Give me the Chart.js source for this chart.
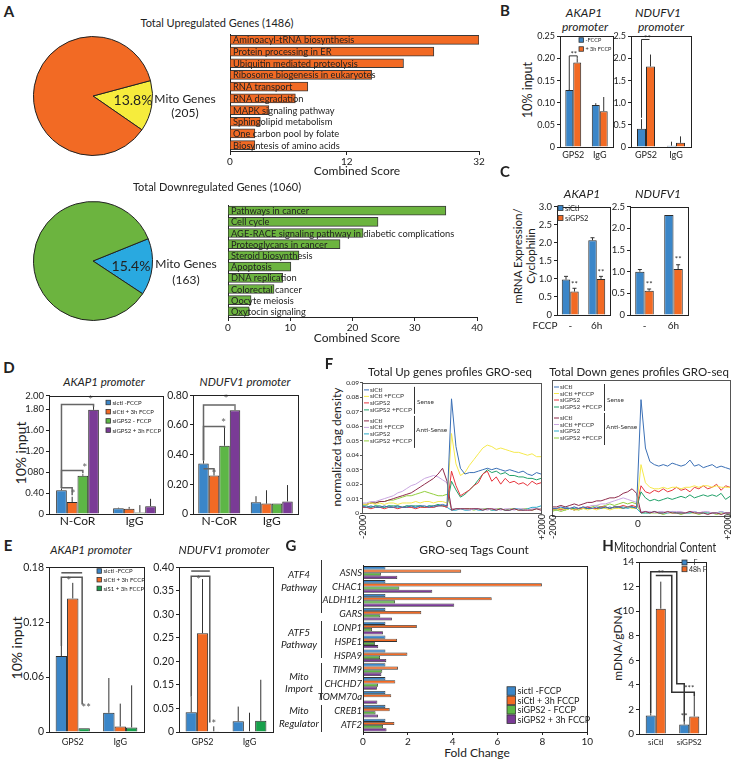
<!DOCTYPE html>
<html><head><meta charset="utf-8">
<script src="https://cdn.jsdelivr.net/npm/chart.js@4.4.0/dist/chart.umd.min.js"></script>
<style>
html,body{margin:0;background:#fff;overflow:hidden}
#fig{position:relative;width:734px;height:763px;overflow:hidden;font-family:Lato,'Open Sans',sans-serif;color:#222}
#fig canvas{position:absolute}
.t{position:absolute;white-space:nowrap;line-height:1;transform:translate(-50%,-50%)}
.v{transform:translate(-50%,-50%) rotate(-90deg)}
.b{font-weight:bold}
.i{font-style:italic}
</style></head><body><div id="fig"></div>
<script>
/* data: panel A */
const upPie = [13.8, 86.2];
const downPie = [15.4, 84.6];
const upTerms = ['Aminoacyl-tRNA biosynthesis', 'Protein processing in ER', 'Ubiquitin mediated proteolysis', 'Ribosome biogenesis in eukaryotes', 'RNA transport', 'RNA degradation', 'MAPK signaling pathway', 'Sphingolipid metabolism', 'One carbon pool by folate', 'Biosyntesis of amino acids'];
const upScores = [32, 26.2, 22.3, 18.2, 10.0, 8.4, 5.0, 3.9, 3.2, 3.2];
const upTickVals = [0, 15, 32];
const upTickLabels = ['0', '12', '32'];
const downTerms = ['Pathways in cancer', 'Cell cycle', 'AGE-RACE signaling pathway in diabetic complications', 'Proteoglycans in cancer', 'Steroid biosynthesis', 'Apoptosis', 'DNA replication', 'Colorectal cancer', 'Oocyte meiosis', 'Oxytocin signaling'];
const downScores = [35.0, 24.1, 21.7, 18.0, 11.4, 10.1, 8.8, 7.4, 3.7, 3.4];
const downTickVals = [0, 10, 20, 30, 40];
const downTickLabels = ['0', '10', '20', '30', '40'];

/* panel B: ChIP */
const chipGroups = ['GPS2', 'IgG'];
const bLegend = ['-FCCP', '+ 3h FCCP'];
const bAkapNoF = [0.129, 0.095], bAkapNoFErr = [0.131, 0.099];
const bAkapF = [0.191, 0.081], bAkapFErr = [0.200, 0.113];
const bAkapTicks = [0, 0.05, 0.1, 0.15, 0.2, 0.25];
const bAkapTickLabels = ['0', '0.05', '0.10', '0.15', '0.20', '0.25'];
const bNdufNoF = [0.41, 0.03], bNdufNoFErr = [0.63, 0.12];
const bNdufF = [1.82, 0.095], bNdufFErr = [2.09, 0.24];
const bNdufTicks = [0, 0.5, 1, 1.5, 2, 2.5];
const bNdufTickLabels = ['0', '0.5', '1.0', '1.5', '2.0', '2.5'];

/* panel C: mRNA */
const fccpGroups = ['-', '6h'];
const cLegend = ['siCtl', 'siGPS2'];
const cAkapCtl = [0.98, 2.07], cAkapCtlErr = [1.07, 2.14];
const cAkapSi = [0.65, 1.0], cAkapSiErr = [0.74, 1.07];
const cAkapTicks = [0, 0.5, 1, 1.5, 2, 2.5, 3];
const cAkapTickLabels = ['0', '0.5', '1.0', '1.5', '2.0', '2.5', '3.0'];
const cNdufCtl = [1.0, 2.31], cNdufCtlErr = [1.05, 2.32];
const cNdufSi = [0.56, 1.06], cNdufSiErr = [0.6, 1.16];
const cNdufTicks = [0, 0.5, 1, 1.5, 2, 2.5];
const cNdufTickLabels = ['0', '0.5', '1.0', '1.5', '2.0', '2.5'];

/* panel D: N-CoR ChIP */
const dGroups = ['N-CoR', 'IgG'];
const dLegend = ['sictl -FCCP', 'siCtl + 3h FCCP', 'siGPS2 - FCCP', 'siGPS2 + 3h FCCP'];
const dAkap = [[0.455, 0.11], [0.23, 0.10], [0.73, 0.03], [1.99, 0.15]];
const dAkapErr = [[0.49, 0.12], [0.33, 0.135], [0.76, 0.17], [2.10, 0.29]];
const dAkapTicks = [0, 0.4, 0.8, 1.2, 1.6, 2.0, 2.26];
const dAkapTickLabels = ['0', '0.40', '080', '1.20', '1.60', '1.80', '2.00'];
const dNduf = [[0.34, 0.08], [0.26, 0.07], [0.46, 0.07], [0.70, 0.085]];
const dNdufErr = [[0.36, 0.12], [0.29, 0.16], [0.58, 0.07], [0.73, 0.195]];
const dNdufTicks = [0, 0.2, 0.4, 0.6, 0.8];
const dNdufTickLabels = ['0', '0.20', '0.40', '0.60', '0.80'];

/* panel E: GPS2 ChIP */
const eLegend = ['sictl -FCCP', 'siCtl + 3h FCCP', 'siS1 + 3h FCCP'];
const eAkap = [[0.083, 0.021], [0.146, 0.006], [0.004, 0.005]];
const eAkapErr = [[0.094, 0.059], [0.163, 0.031], [0.004, 0.051]];
const eAkapTicks = [0, 0.06, 0.12, 0.18];
const eAkapTickLabels = ['0', '0.06', '0.12', '0.18'];
const eNduf = [[0.042, 0.023], [0.21, 0.0015], [0.0015, 0.024]];
const eNdufErr = [[0.075, 0.054], [0.325, 0.041], [0.012, 0.111]];
const eNdufTicks = [0, 0.05, 0.1, 0.15, 0.2, 0.25, 0.3, 0.35];
const eNdufTickLabels = ['0', '0.05', '0.15', '0.20', '0.25', '0.30', '0.35', '0.40'];

/* panel F: GRO-seq profiles */
const profileX = [-2000, -1900, -1800, -1700, -1600, -1500, -1400, -1300, -1200, -1100, -1000, -900, -800, -700, -600, -500, -400, -300, -200, -100, 0, 100, 200, 300, 400, 500, 600, 700, 800, 900, 1000, 1100, 1200, 1300, 1400, 1500, 1600, 1700, 1800, 1900, 2000];
const profileNames = ['siCtl', 'siCtl +FCCP', 'siGPS2', 'siGPS2 +FCCP', 'siCtl', 'siCtl +FCCP', 'siGPS2', 'siGPS2 +FCCP'];
const strandNames = ['Sense', 'Anti-Sense'];
const fTickVals = [0, 0.01, 0.02, 0.03, 0.04, 0.05, 0.06, 0.07, 0.08, 0.09];
const fTickLabels = ['0', '0.01', '0.02', '0.03', '0.04', '0.05', '0.06', '0.07', '0.08', '0.09'];
const upSenseCtl = [0.005, 0.004, 0.005, 0.004, 0.004, 0.005, 0.004, 0.004, 0.005, 0.004, 0.004, 0.005, 0.004, 0.005, 0.005, 0.004, 0.005, 0.005, 0.006, 0.005, 0.079, 0.046, 0.031, 0.027, 0.028, 0.028, 0.029, 0.030, 0.031, 0.030, 0.031, 0.030, 0.029, 0.030, 0.029, 0.028, 0.029, 0.027, 0.026, 0.028, 0.027];
const upSenseCtlF = [0.006, 0.006, 0.007, 0.006, 0.007, 0.006, 0.007, 0.007, 0.006, 0.007, 0.007, 0.007, 0.008, 0.007, 0.008, 0.008, 0.007, 0.008, 0.008, 0.007, 0.055, 0.034, 0.026, 0.028, 0.033, 0.037, 0.041, 0.045, 0.047, 0.046, 0.044, 0.045, 0.044, 0.043, 0.042, 0.042, 0.041, 0.040, 0.041, 0.039, 0.039];
const upSenseSi = [0.004, 0.004, 0.003, 0.004, 0.004, 0.003, 0.004, 0.004, 0.003, 0.004, 0.004, 0.004, 0.003, 0.004, 0.004, 0.004, 0.004, 0.005, 0.005, 0.004, 0.029, 0.019, 0.012, 0.014, 0.016, 0.019, 0.021, 0.027, 0.029, 0.022, 0.025, 0.020, 0.024, 0.021, 0.022, 0.020, 0.021, 0.019, 0.022, 0.020, 0.021];
const upSenseSiF = [0.005, 0.005, 0.004, 0.005, 0.005, 0.004, 0.005, 0.005, 0.005, 0.004, 0.005, 0.005, 0.005, 0.005, 0.004, 0.005, 0.005, 0.006, 0.005, 0.005, 0.022, 0.016, 0.011, 0.013, 0.016, 0.019, 0.023, 0.027, 0.030, 0.028, 0.029, 0.027, 0.028, 0.026, 0.026, 0.025, 0.025, 0.024, 0.024, 0.023, 0.024];
const upAntiCtl = [0.006, 0.006, 0.007, 0.007, 0.008, 0.008, 0.009, 0.010, 0.011, 0.012, 0.013, 0.014, 0.016, 0.018, 0.020, 0.022, 0.024, 0.027, 0.031, 0.022, 0.002, 0.003, 0.003, 0.003, 0.003, 0.003, 0.003, 0.002, 0.003, 0.003, 0.002, 0.003, 0.002, 0.002, 0.003, 0.002, 0.002, 0.002, 0.002, 0.003, 0.002];
const upAntiCtlF = [0.007, 0.007, 0.008, 0.008, 0.009, 0.010, 0.011, 0.012, 0.014, 0.015, 0.017, 0.019, 0.020, 0.022, 0.024, 0.025, 0.026, 0.025, 0.023, 0.021, 0.003, 0.003, 0.003, 0.003, 0.002, 0.003, 0.003, 0.003, 0.002, 0.003, 0.003, 0.002, 0.003, 0.003, 0.002, 0.003, 0.003, 0.002, 0.003, 0.003, 0.003];
const upAntiSi = [0.004, 0.004, 0.004, 0.005, 0.004, 0.004, 0.005, 0.004, 0.004, 0.004, 0.005, 0.004, 0.004, 0.005, 0.004, 0.005, 0.004, 0.005, 0.005, 0.004, 0.002, 0.002, 0.003, 0.002, 0.002, 0.003, 0.002, 0.002, 0.003, 0.002, 0.002, 0.003, 0.002, 0.002, 0.003, 0.003, 0.002, 0.003, 0.004, 0.004, 0.005];
const upAntiSiF = [0.006, 0.006, 0.007, 0.007, 0.008, 0.008, 0.009, 0.009, 0.010, 0.011, 0.012, 0.012, 0.013, 0.014, 0.015, 0.014, 0.013, 0.012, 0.012, 0.013, 0.003, 0.003, 0.003, 0.003, 0.003, 0.002, 0.003, 0.003, 0.003, 0.002, 0.003, 0.003, 0.002, 0.003, 0.003, 0.002, 0.003, 0.003, 0.002, 0.003, 0.003];
const dnSenseCtl = [0.005, 0.005, 0.006, 0.005, 0.005, 0.006, 0.005, 0.006, 0.005, 0.005, 0.006, 0.005, 0.006, 0.005, 0.006, 0.006, 0.005, 0.006, 0.006, 0.005, 0.077, 0.045, 0.036, 0.034, 0.033, 0.034, 0.033, 0.035, 0.034, 0.033, 0.034, 0.037, 0.033, 0.034, 0.032, 0.033, 0.034, 0.032, 0.033, 0.032, 0.031];
const dnSenseCtlF = [0.004, 0.004, 0.005, 0.004, 0.005, 0.004, 0.004, 0.005, 0.004, 0.005, 0.004, 0.005, 0.005, 0.004, 0.005, 0.005, 0.005, 0.006, 0.005, 0.005, 0.034, 0.022, 0.019, 0.018, 0.018, 0.019, 0.018, 0.019, 0.019, 0.018, 0.019, 0.019, 0.020, 0.019, 0.020, 0.020, 0.019, 0.020, 0.019, 0.019, 0.019];
const dnSenseSi = [0.004, 0.005, 0.004, 0.005, 0.005, 0.004, 0.005, 0.005, 0.006, 0.005, 0.005, 0.006, 0.006, 0.005, 0.006, 0.006, 0.007, 0.006, 0.007, 0.006, 0.020, 0.016, 0.015, 0.017, 0.016, 0.018, 0.016, 0.017, 0.019, 0.017, 0.018, 0.016, 0.019, 0.018, 0.020, 0.018, 0.019, 0.021, 0.017, 0.020, 0.019];
const dnSenseSiF = [0.004, 0.004, 0.005, 0.004, 0.005, 0.005, 0.004, 0.005, 0.005, 0.005, 0.005, 0.005, 0.006, 0.005, 0.006, 0.006, 0.005, 0.006, 0.006, 0.005, 0.016, 0.012, 0.010, 0.011, 0.010, 0.011, 0.012, 0.011, 0.012, 0.013, 0.012, 0.014, 0.012, 0.013, 0.014, 0.013, 0.014, 0.013, 0.015, 0.011, 0.013];
const dnAntiCtl = [0.006, 0.006, 0.007, 0.006, 0.007, 0.008, 0.007, 0.008, 0.009, 0.009, 0.010, 0.010, 0.011, 0.012, 0.012, 0.013, 0.015, 0.016, 0.018, 0.015, 0.002, 0.003, 0.002, 0.003, 0.002, 0.002, 0.003, 0.002, 0.002, 0.002, 0.002, 0.003, 0.002, 0.002, 0.002, 0.001, 0.002, 0.002, 0.001, 0.002, 0.002];
const dnAntiCtlF = [0.004, 0.005, 0.004, 0.005, 0.005, 0.006, 0.005, 0.006, 0.006, 0.007, 0.007, 0.008, 0.008, 0.009, 0.010, 0.011, 0.012, 0.011, 0.010, 0.009, 0.003, 0.003, 0.003, 0.002, 0.003, 0.003, 0.002, 0.003, 0.003, 0.003, 0.002, 0.003, 0.003, 0.002, 0.003, 0.003, 0.002, 0.002, 0.003, 0.002, 0.002];
const dnAntiSi = [0.005, 0.004, 0.005, 0.006, 0.005, 0.004, 0.005, 0.005, 0.006, 0.005, 0.005, 0.006, 0.005, 0.006, 0.005, 0.006, 0.006, 0.005, 0.006, 0.005, 0.002, 0.002, 0.002, 0.003, 0.002, 0.002, 0.002, 0.003, 0.002, 0.002, 0.002, 0.002, 0.003, 0.002, 0.002, 0.002, 0.002, 0.002, 0.003, 0.002, 0.002];
const dnAntiSiF = [0.003, 0.004, 0.003, 0.004, 0.005, 0.004, 0.005, 0.006, 0.005, 0.006, 0.007, 0.006, 0.007, 0.008, 0.007, 0.008, 0.009, 0.008, 0.009, 0.008, 0.002, 0.002, 0.002, 0.002, 0.002, 0.001, 0.002, 0.002, 0.002, 0.001, 0.002, 0.002, 0.002, 0.001, 0.002, 0.002, 0.002, 0.001, 0.002, 0.002, 0.001];

/* panel G: tag counts */
const gGenes = ['ASNS', 'CHAC1', 'ALDH1L2', 'GARS', 'LONP1', 'HSPE1', 'HSPA9', 'TIMM9', 'CHCHD7', 'TOMM70a', 'CREB1', 'ATF2'];
const gCtl = [1, 1, 1, 1, 1, 1, 1, 1, 1, 1, 1, 1];
const gCtlF = [4.38, 7.98, 5.74, 2.6, 2.4, 1.52, 1.98, 1.56, 1.44, 1.26, 1.19, 1.4];
const gSi = [0.8, 1.62, 1.43, 0.77, 0.4, 0.53, 0.76, 0.86, 0.67, 0, 0.56, 0.89];
const gSiF = [1.53, 3.09, 4.07, 1.29, 0.89, 0.68, 1.04, 0.82, 0.62, 0.64, 0.67, 1.05];
const gTickVals = [0, 2, 4, 6, 8, 10];
const gTickLabels = ['0', '2', '4', '6', '8', '10'];
const gLegend = ['sictl -FCCP', 'siCtl + 3h FCCP', 'siGPS2 - FCCP', 'siGPS2 + 3h FCCP'];
const gPathways = [['ATF4', 'Pathway'], ['ATF5', 'Pathway'], ['Mito', 'Import'], ['Mito', 'Regulator']];

/* panel H: mito content */
const hGroups = ['siCtl', 'siGPS2'];
const hLegend = ['- F', '48h F'];
const hNoF = [1.51, 0.77], hNoFErr = [1.7, 1.0];
const hF = [10.2, 1.43], hFErr = [12.4, 3.1];
const hTicks = [0, 2, 4, 6, 8, 10, 12, 14];
const hTickLabels = ['0', '2', '4', '6', '8', '10', '12', '14'];

const FONT = "Lato, 'Open Sans', sans-serif";
const BLUE = '#3b86c8', ORANGE = '#f26a24', GREEN = '#5db646', PURPLE = '#7a3b96', DGREEN = '#17a04b';
const lineColors = ['#3a6fb5', '#f5e94c', '#e6343c', '#20a068', '#8e2a4a', '#c9a6e0', '#2aaac9', '#93cf3e'];

Chart.defaults.font.family = FONT;
Chart.defaults.color = '#222';

const fig = document.getElementById('fig');

const annPlugin = {
  id: 'ann',
  afterDatasetsDraw(chart) {
    const a = chart.canvas._ann, ctx = chart.ctx, ca = chart.chartArea, ys = chart.scales.y;
    ctx.save();
    if (a.err) {
      ctx.strokeStyle = '#333'; ctx.lineWidth = 1;
      a.err.forEach((errs, i) => {
        if (!errs) return;
        chart.getDatasetMeta(i).data.forEach((bar, j) => {
          const y = ys.getPixelForValue(errs[j]);
          if (y >= bar.y - 0.5) return;
          ctx.beginPath(); ctx.moveTo(bar.x, bar.y); ctx.lineTo(bar.x, y);
          if (a.cap) { ctx.moveTo(bar.x - a.cap, y); ctx.lineTo(bar.x + a.cap, y); }
          ctx.stroke();
        });
      });
    }
    if (a.marks) {
      const px = p => chart.getDatasetMeta(p[0]).data[p[1]].x + (p[2] || 0);
      const col = a.markColor || '#555';
      ctx.strokeStyle = col; ctx.fillStyle = col; ctx.lineWidth = a.markWidth || 1.5;
      ctx.font = `${a.markSize || 11}px ${FONT}`; ctx.textAlign = 'center'; ctx.textBaseline = 'middle';
      a.marks.forEach(m => {
        if (m.pts) {
          ctx.beginPath();
          m.pts.forEach((p, k) => { const x = px(p), y = ys.getPixelForValue(p[3]); if (k) ctx.lineTo(x, y); else ctx.moveTo(x, y); });
          ctx.stroke();
        }
        if (m.t) ctx.fillText(m.t, px(m.at), ys.getPixelForValue(m.at[3]));
      });
    }
    if (a.catLabels) {
      ctx.fillStyle = '#222'; ctx.font = `${a.catLabels}px ${FONT}`; ctx.textAlign = 'left'; ctx.textBaseline = 'middle';
      chart.getDatasetMeta(0).data.forEach((bar, j) => ctx.fillText(chart.data.labels[j], ca.left + 3, bar.y + 0.5));
    }
    ctx.restore();
  },
  afterDraw(chart) {
    const a = chart.canvas._ann, ctx = chart.ctx, ca = chart.chartArea;
    const ox = parseFloat(chart.canvas.style.left), oy = parseFloat(chart.canvas.style.top);
    ctx.save();
    if (a.frame) {
      ctx.strokeStyle = a.frameColor || '#222'; ctx.lineWidth = 1;
      ctx.strokeRect(Math.round(ca.left) + 0.5, Math.round(ca.top) + 0.5, Math.round(ca.right - ca.left), Math.round(ca.bottom - ca.top));
    }
    if (a.legend) {
      const L = a.legend;
      ctx.font = `${L.size}px ${FONT}`; ctx.textAlign = 'left'; ctx.textBaseline = 'middle';
      L.names.forEach((n, k) => {
        const x = L.x - ox, y = L.y - oy + k * L.row;
        ctx.fillStyle = L.colors[k]; ctx.fillRect(x, y - L.box / 2, L.box, L.box);
        ctx.strokeStyle = '#333'; ctx.lineWidth = 0.8; ctx.strokeRect(x, y - L.box / 2, L.box, L.box);
        ctx.fillStyle = '#222'; ctx.fillText(n, x + L.box + 2, y + 0.5);
      });
    }
    if (a.lineLegend) {
      const rows = [7, 13.5, 20, 27, 38, 44.5, 51, 58];
      ctx.font = `6.5px ${FONT}`; ctx.textAlign = 'left'; ctx.textBaseline = 'middle'; ctx.lineWidth = 1;
      profileNames.forEach((n, k) => {
        const y = ca.top + rows[k];
        ctx.strokeStyle = lineColors[k];
        ctx.beginPath(); ctx.moveTo(ca.left + 2, y); ctx.lineTo(ca.left + 7, y); ctx.stroke();
        ctx.fillStyle = '#333'; ctx.fillText(n, ca.left + 8, y);
      });
      ctx.strokeStyle = '#333';
      ctx.beginPath();
      ctx.moveTo(ca.left + 52.5, ca.top + 4); ctx.lineTo(ca.left + 52.5, ca.top + 31);
      ctx.moveTo(ca.left + 52.5, ca.top + 33); ctx.lineTo(ca.left + 52.5, ca.top + 65);
      ctx.stroke();
      ctx.fillText(strandNames[0], ca.left + 55, ca.top + 19.5);
      ctx.fillText(strandNames[1], ca.left + 54, ca.top + 47);
    }
    ctx.restore();
  }
};

// rect = plot area in page px, m = [left, top, right, bottom] room around it
function make(rect, m, cfg, extra) {
  const w = rect[2] - rect[0] + m[0] + m[2], h = rect[3] - rect[1] + m[1] + m[3];
  const c = document.createElement('canvas');
  c.width = w; c.height = h;
  c.style.cssText = `left:${rect[0] - m[0]}px;top:${rect[1] - m[1]}px;width:${w}px;height:${h}px`;
  c._ann = extra || {};
  fig.appendChild(c);
  const o = cfg.options = cfg.options || {};
  o.responsive = false; o.animation = false; o.events = [];
  o.layout = { padding: { left: 0, top: m[1], right: m[2], bottom: 0 } };
  o.plugins = { legend: { display: false }, tooltip: { enabled: false } };
  Object.values(o.scales || {}).forEach(s => {
    s.afterFit = sc => { if (sc.isHorizontal()) sc.height = m[3]; else sc.width = m[0]; };
  });
  cfg.plugins = [annPlugin];
  return new Chart(c, cfg);
}

function txt(x, y, s, size, cls, extra) {
  const d = document.createElement('div');
  d.className = 't ' + (cls || '');
  d.style.cssText = `left:${x}px;top:${y}px;font-size:${size}px;` + (extra || '');
  d.textContent = s;
  fig.appendChild(d);
}
function vline(x, y0, y1) {
  const d = document.createElement('div');
  d.style.cssText = `position:absolute;left:${x}px;top:${y0}px;width:1px;height:${y1 - y0}px;background:#333`;
  fig.appendChild(d);
}

function pie(rect, data, colors, rot) {
  return make(rect, [0, 0, 0, 0], {
    type: 'pie',
    data: { labels: ['Mito', 'Other'], datasets: [{ data, backgroundColor: colors, borderColor: '#222', borderWidth: 1 }] },
    options: { rotation: rot }
  });
}

function hbarsA(rect, labels, data, color, tickVals, tickLabels) {
  return make(rect, [4, 2, 8, 28], {
    type: 'bar',
    data: { labels, datasets: [{ data, backgroundColor: color, borderColor: '#3a3a3a', borderWidth: 1, barThickness: 9 }] },
    options: {
      indexAxis: 'y',
      scales: {
        x: { min: 0, max: tickVals[tickVals.length - 1],
             afterBuildTicks: s => { s.ticks = tickVals.map(v => ({ value: v })); },
             grid: { drawOnChartArea: false, tickLength: 4, color: '#222' }, border: { color: '#222' },
             ticks: { color: '#222', font: { size: 10 }, padding: 1, maxRotation: 0, autoSkip: false, callback: (v, i) => tickLabels[i] } },
        y: { grid: { display: false, drawTicks: false }, border: { color: '#222' }, ticks: { display: false } }
      }
    }
  }, { catLabels: 9.3 });
}

function vbars(rect, m, o) {
  return make(rect, m, {
    type: 'bar',
    data: {
      labels: o.labels,
      datasets: o.series.map(s => ({ data: s.data, backgroundColor: s.color, borderColor: '#2b2b2b', borderWidth: 1, categoryPercentage: o.cat, barPercentage: 1 }))
    },
    options: {
      scales: {
        x: { grid: { display: false, drawTicks: false }, border: { color: '#222' },
             ticks: { color: '#222', font: { size: o.xSize }, padding: o.xPad, maxRotation: 0, autoSkip: false } },
        y: { min: 0, max: o.tickVals[o.tickVals.length - 1],
             afterBuildTicks: s => { s.ticks = o.tickVals.map(v => ({ value: v })); },
             grid: { drawOnChartArea: false, tickLength: 3, color: '#222' }, border: { color: '#222' },
             ticks: { color: '#222', font: { size: o.ySize }, padding: 2, autoSkip: false, callback: (v, i) => o.tickLabels[i] } }
      }
    }
  }, Object.assign({ frame: true, err: o.series.map(s => s.err) }, o.ann));
}

function profile(rect, m, series, showY) {
  return make(rect, m, {
    type: 'line',
    data: { datasets: series.map((s, i) => ({ data: profileX.map((x, k) => ({ x, y: s[k] })), borderColor: lineColors[i], borderWidth: 1, pointRadius: 0, tension: 0 })) },
    options: {
      scales: {
        x: { type: 'linear', min: -2000, max: 2000, ticks: { display: false }, grid: { display: false, drawTicks: false }, border: { color: '#555' } },
        y: { min: 0, max: 0.09, afterBuildTicks: s => { s.ticks = fTickVals.map(v => ({ value: v })); },
             grid: { display: showY, drawOnChartArea: false, tickLength: 2, color: '#555' }, border: { color: '#555' },
             ticks: { display: showY, font: { size: 6.5 }, padding: 1, autoSkip: false, callback: (v, i) => fTickLabels[i] } }
      }
    }
  }, { frame: true, frameColor: '#555', lineLegend: true });
}

/* ---------- A ---------- */
txt(9, 11, 'A', 15, 'b');
txt(217, 22, 'Total Upregulated Genes (1486)', 11);
pie([33, 36, 153, 156], upPie, ['#f6ec3c', '#f26a24'], 75);
txt(133, 100, upPie[0] + '%', 14);
txt(185, 99, 'Mito Genes', 12); txt(185, 113, '(205)', 12);
hbarsA([230, 34, 479, 151], upTerms, upScores, '#f26a24', upTickVals, upTickLabels);
txt(357, 171, 'Combined Score', 12);
txt(217, 186, 'Total Downregulated Genes (1060)', 11);
pie([33, 201, 153, 321], downPie, ['#29a9e0', '#6cb43f'], 68);
txt(131, 266, downPie[0] + '%', 14);
txt(186, 264, 'Mito Genes', 12); txt(186, 280, '(163)', 12);
hbarsA([228, 205, 477, 317], downTerms, downScores, '#6cb43f', downTickVals, downTickLabels);
txt(357, 338, 'Combined Score', 12);

/* ---------- B ---------- */
txt(505, 10, 'B', 15, 'b');
txt(584, 13, 'AKAP1', 12, 'i'); txt(585, 27, 'promoter', 12, 'i');
txt(658, 13, 'NDUFV1', 12, 'i'); txt(661, 27, 'promoter', 12, 'i');
txt(528, 90, '10% input', 12.5, 'v');
vbars([560, 33, 613, 147], [30, 4, 2, 16], {
  labels: chipGroups, cat: 0.6, xSize: 9, xPad: 3, ySize: 9, tickVals: bAkapTicks, tickLabels: bAkapTickLabels,
  series: [{ data: bAkapNoF, err: bAkapNoFErr, color: BLUE }, { data: bAkapF, err: bAkapFErr, color: ORANGE }],
  ann: { markColor: '#333', markWidth: 1, markSize: 8,
         marks: [{ pts: [[0, 0, 0, 0.13], [0, 0, 0, 0.206], [1, 0, 0, 0.206], [1, 0, 0, 0.2]], t: '**', at: [0, 0, 4.5, 0.21] }],
         legend: { x: 579, y: 40, row: 9, box: 4.5, size: 5.5, names: bLegend, colors: [BLUE, ORANGE] } }
});
vbars([631, 33, 691, 147], [22, 4, 2, 16], {
  labels: chipGroups, cat: 0.6, xSize: 9, xPad: 3, ySize: 9, tickVals: bNdufTicks, tickLabels: bNdufTickLabels,
  series: [{ data: bNdufNoF, err: bNdufNoFErr, color: BLUE }, { data: bNdufF, err: bNdufFErr, color: ORANGE }],
  ann: { markColor: '#333', markWidth: 1, markSize: 8,
         marks: [{ pts: [[0, 0, 0, 0.66], [0, 0, 0, 2.43], [1, 0, -1, 2.43]], t: '**', at: [0, 0, 6, 2.46] }] }
});

/* ---------- C ---------- */
txt(505, 171, 'C', 15, 'b');
txt(582, 194, 'AKAP1', 12, 'i'); txt(658, 194, 'NDUFV1', 12, 'i');
txt(518, 256, 'mRNA Expression/', 11.5, 'v'); txt(531, 256, 'Cyclophilin', 11.5, 'v');
txt(545, 325, 'FCCP', 10);
vbars([557, 203, 610, 315], [24, 4, 2, 16], {
  labels: fccpGroups, cat: 0.64, xSize: 10, xPad: 5, ySize: 9.5, tickVals: cAkapTicks, tickLabels: cAkapTickLabels,
  series: [{ data: cAkapCtl, err: cAkapCtlErr, color: BLUE }, { data: cAkapSi, err: cAkapSiErr, color: ORANGE }],
  ann: { cap: 2, markColor: '#333', markSize: 8,
         marks: [{ t: '**', at: [1, 0, 0, 0.84] }, { t: '**', at: [1, 1, 0, 1.17] }],
         legend: { x: 558, y: 208, row: 10, box: 5, size: 7.5, names: cLegend, colors: [BLUE, ORANGE] } }
});
vbars([630, 203, 688, 315], [24, 4, 2, 16], {
  labels: fccpGroups, cat: 0.64, xSize: 10, xPad: 5, ySize: 9.5, tickVals: cNdufTicks, tickLabels: cNdufTickLabels,
  series: [{ data: cNdufCtl, err: cNdufCtlErr, color: BLUE }, { data: cNdufSi, err: cNdufSiErr, color: ORANGE }],
  ann: { cap: 2, markColor: '#333', markSize: 8,
         marks: [{ t: '**', at: [1, 0, 0, 0.7] }, { t: '**', at: [1, 1, 0, 1.28] }] }
});

/* ---------- D ---------- */
const dColors = [BLUE, ORANGE, GREEN, PURPLE];
txt(9, 367, 'D', 15, 'b');
txt(104, 382, 'AKAP1 promoter', 11.5, 'i'); txt(245, 382, 'NDUFV1 promoter', 11.5, 'i');
txt(21, 453, '10% input', 14, 'v');
vbars([49, 392, 163, 514], [32, 4, 2, 16], {
  labels: dGroups, cat: 0.75, xSize: 12, xPad: 0, ySize: 9.5, tickVals: dAkapTicks, tickLabels: dAkapTickLabels,
  series: dAkap.map((d, i) => ({ data: d, err: dAkapErr[i], color: dColors[i] })),
  ann: { markColor: '#666', markSize: 12,
         marks: [
           { pts: [[0, 0, 0, 0.5], [0, 0, 0, 2.09], [3, 0, 0, 2.09], [3, 0, 0, 2.05]], t: '*', at: [3, 0, -3, 2.18] },
           { pts: [[0, 0, 0, 0.5], [0, 0, 0, 0.83], [2, 0, 0, 0.83], [2, 0, 0, 0.78]], t: '*', at: [2, 0, 2, 0.88] },
           { pts: [[0, 0, 0, 0.49], [0, 0, 0, 0.5], [1, 0, 0, 0.5], [1, 0, 0, 0.36]], t: '*', at: [1, 0, 1, 0.38] }],
         legend: { x: 106, y: 402.5, row: 9.2, box: 4.5, size: 6, names: dLegend, colors: dColors } }
});
vbars([193, 391, 298, 514], [32, 4, 2, 16], {
  labels: dGroups, cat: 0.8, xSize: 12, xPad: 0, ySize: 10.5, tickVals: dNdufTicks, tickLabels: dNdufTickLabels,
  series: dNduf.map((d, i) => ({ data: d, err: dNdufErr[i], color: dColors[i] })),
  ann: { markColor: '#666', markSize: 12,
         marks: [
           { pts: [[0, 0, 0, 0.36], [0, 0, 0, 0.735], [3, 0, 0, 0.735], [3, 0, 0, 0.73]], t: '*', at: [3, 0, -9, 0.775] },
           { pts: [[0, 0, 0, 0.36], [0, 0, 0, 0.59], [2, 0, 0, 0.59], [2, 0, 0, 0.58]], t: '*', at: [2, 0, -1, 0.615] },
           { pts: [[0, 0, 0, 0.305], [1, 0, 0, 0.305], [1, 0, 0, 0.29]], t: '*', at: [1, 0, 0, 0.27] }] }
});

/* ---------- E ---------- */
const eColors = [BLUE, ORANGE, DGREEN];
txt(8, 545, 'E', 15, 'b');
txt(91, 550, 'AKAP1 promoter', 11.5, 'i'); txt(224, 550, 'NDUFV1 promoter', 11.5, 'i');
txt(17, 648, '10% input', 14, 'v');
vbars([49, 563, 144, 732], [32, 4, 2, 20], {
  labels: chipGroups, cat: 0.72, xSize: 9, xPad: 5, ySize: 10.5, tickVals: eAkapTicks, tickLabels: eAkapTickLabels,
  series: eAkap.map((d, i) => ({ data: d, err: eAkapErr[i], color: eColors[i] })),
  ann: { markColor: '#555', markSize: 11,
         marks: [
           { pts: [[0, 0, 0, 0.174], [2, 0, -2, 0.174]] },
           { pts: [[0, 0, 0, 0.094], [0, 0, 0, 0.169], [2, 0, -2, 0.169], [2, 0, -2, 0.03]], t: '*', at: [1, 0, -4, 0.165] },
           { t: '**', at: [2, 0, 2, 0.026] }],
         legend: { x: 97, y: 571, row: 8.7, box: 4.5, size: 6, names: eLegend, colors: eColors } }
});
vbars([179, 563, 273, 732], [32, 4, 2, 20], {
  labels: chipGroups, cat: 0.72, xSize: 9, xPad: 5, ySize: 10.5, tickVals: eNdufTicks, tickLabels: eNdufTickLabels,
  series: eNduf.map((d, i) => ({ data: d, err: eNdufErr[i], color: eColors[i] })),
  ann: { markColor: '#555', markSize: 11,
         marks: [
           { pts: [[0, 0, 0, 0.342], [2, 0, -4, 0.342]] },
           { pts: [[0, 0, 0, 0.075], [0, 0, 0, 0.331], [2, 0, -4, 0.331], [2, 0, -4, 0.02]], t: '*', at: [1, 0, -4, 0.322] },
           { t: '*', at: [2, 0, 0, 0.016] }] }
});

/* ---------- F ---------- */
txt(329, 363, 'F', 15, 'b');
txt(450, 372, 'Total Up genes profiles GRO-seq', 11.5);
txt(639, 372, 'Total Down genes profiles GRO-seq', 11.5);
txt(337, 447, 'normalized tag density', 12, 'v');
profile([362, 380, 541, 516], [16, 2, 4, 2],
  [upSenseCtl, upSenseCtlF, upSenseSi, upSenseSiF, upAntiCtl, upAntiCtlF, upAntiSi, upAntiSiF], true);
profile([552, 380, 730, 516], [2, 2, 3, 2],
  [dnSenseCtl, dnSenseCtlF, dnSenseSi, dnSenseSiF, dnAntiCtl, dnAntiCtlF, dnAntiSi, dnAntiSiF], false);
txt(362, 527, '-2000', 9, 'v'); txt(449, 523, '0', 10); txt(541, 527, '+2000', 9, 'v');
txt(552, 527, '-2000', 9, 'v'); txt(638, 523, '0', 10); txt(727, 527, '+2000', 9, 'v');

/* ---------- G ---------- */
const gColors = [BLUE, ORANGE, GREEN, PURPLE];
txt(291, 545, 'G', 15, 'b');
txt(474, 550, 'GRO-seq Tags Count', 12);
txt(477, 753, 'Fold Change', 12);
make([363, 559, 588, 732], [46, 0, 6, 20], {
  type: 'bar',
  data: { labels: gGenes, datasets: [gCtl, gCtlF, gSi, gSiF].map((d, i) => ({ data: d, backgroundColor: gColors[i], borderColor: '#333', borderWidth: 0.8, categoryPercentage: 0.92, barPercentage: 1 })) },
  options: {
    indexAxis: 'y',
    scales: {
      x: { min: 0, max: 10, afterBuildTicks: s => { s.ticks = gTickVals.map(v => ({ value: v })); },
           grid: { drawOnChartArea: false, tickLength: 3, color: '#222' }, border: { color: '#222' },
           ticks: { color: '#222', font: { size: 10 }, padding: 1, autoSkip: false, maxRotation: 0, callback: (v, i) => gTickLabels[i] } },
      y: { grid: { display: false, drawTicks: false }, border: { color: '#222' },
           ticks: { color: '#222', font: { size: 9.5, style: 'italic' }, padding: 1, autoSkip: false } }
    }
  }
}, { frame: true, legend: { x: 507, y: 691, row: 9.4, box: 8.5, size: 9, names: gLegend, colors: gColors } });
const gSpans = [[560, 613], [621, 658], [663, 700], [705, 732]];
const gLabelY = [[574, 587], [632, 644], [676, 688], [710, 723]];
gPathways.forEach((p, k) => {
  vline(321, gSpans[k][0], gSpans[k][1]);
  txt(299, gLabelY[k][0], p[0], 10, 'i'); txt(299, gLabelY[k][1], p[1], 10, 'i');
});

/* ---------- H ---------- */
txt(608, 545, 'H', 15, 'b');
txt(665, 548, 'Mitochondrial Content', 12.5, '', 'transform:translate(-50%,-50%) scaleX(0.82)');
txt(618, 644, 'mDNA/gDNA', 12, 'v');
vbars([639, 558, 706, 734], [20, 4, 4, 16], {
  labels: hGroups, cat: 0.6, xSize: 8, xPad: 4, ySize: 10, tickVals: hTicks, tickLabels: hTickLabels,
  series: [{ data: hNoF, err: hNoFErr, color: BLUE }, { data: hF, err: hFErr, color: ORANGE }],
  ann: { markColor: '#333', markWidth: 1.5, markSize: 8,
         marks: [
           { pts: [[0, 0, 0, 1.7], [0, 0, 0, 13.2], [1, 0, 16, 13.2], [1, 0, 16, 4.1], [0, 1, 0, 4.1], [0, 1, 0, 1.0]] },
           { pts: [[1, 0, -5, 12.9], [1, 0, 11, 12.9], [1, 0, 11, 3.4], [1, 1, 0, 3.4], [1, 1, 0, 3.1]] },
           { t: '**', at: [1, 0, 0, 13.05] }, { t: '**', at: [0, 1, 0, 1.4] }, { t: '***', at: [1, 1, -5, 3.7] }],
         legend: { x: 682, y: 562.5, row: 6.7, box: 5, size: 7, names: hLegend, colors: [BLUE, ORANGE] } }
});
</script></body></html>
